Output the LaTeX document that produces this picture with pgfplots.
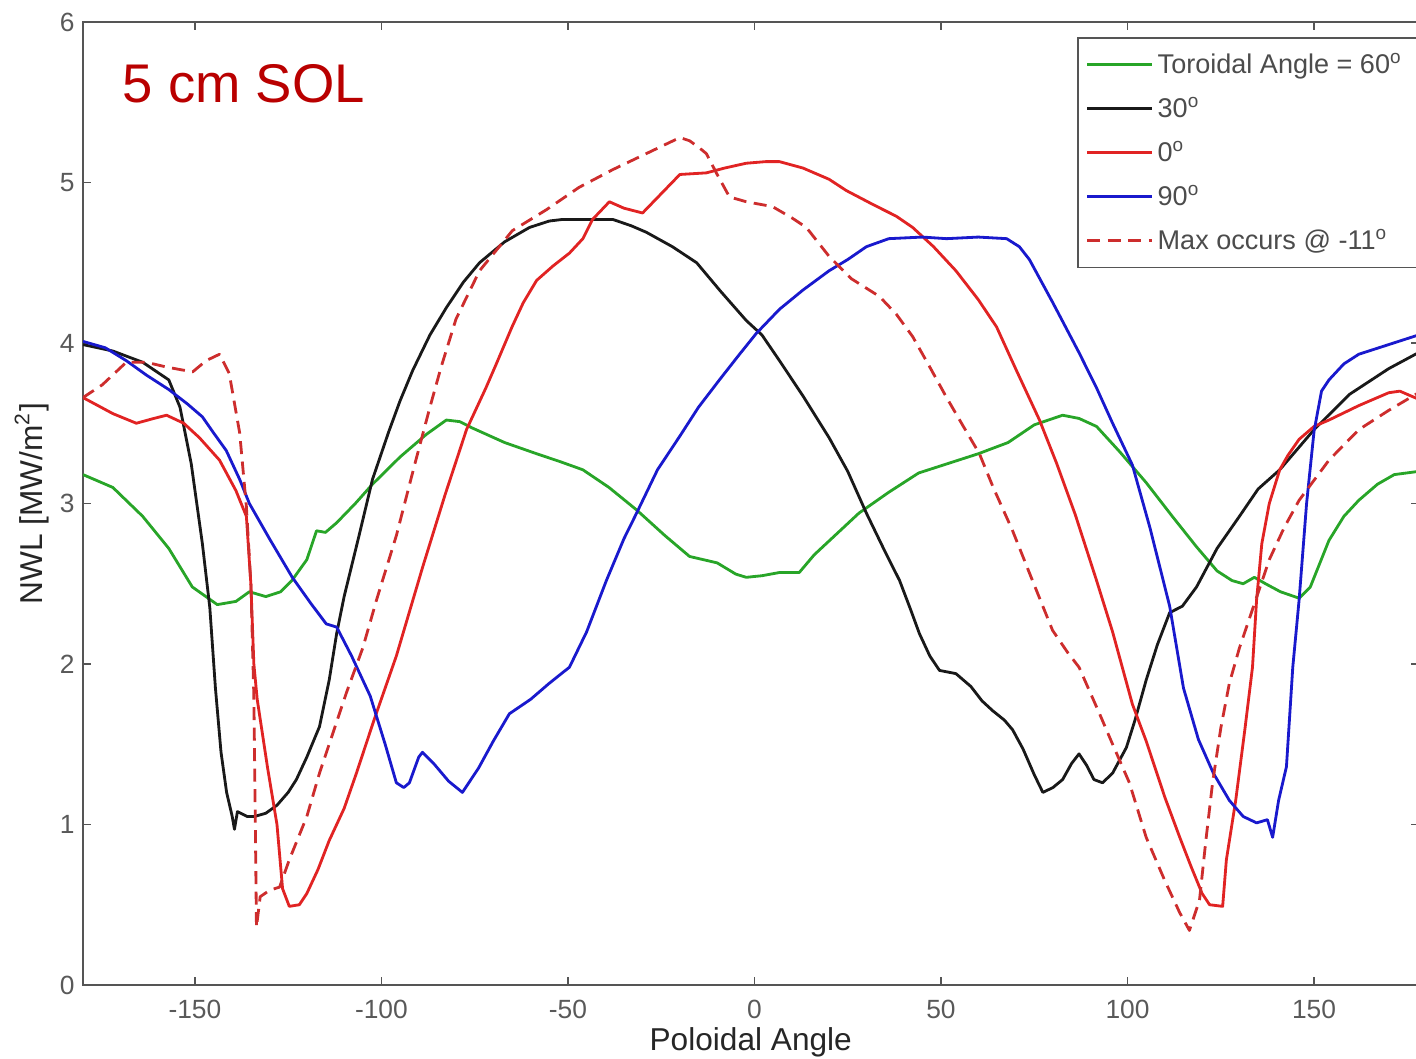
\documentclass[border=0pt]{standalone}
\usepackage{fontspec}
\setmainfont{Liberation Sans}
\usepackage{pgfplots}
\pgfplotsset{compat=1.18}
\definecolor{cgreen}{RGB}{40,165,40}
\definecolor{cblack}{RGB}{25,25,25}
\definecolor{cred}{RGB}{225,35,35}
\definecolor{cdash}{RGB}{205,45,45}
\definecolor{cblue}{RGB}{25,25,205}
\definecolor{ctitle}{RGB}{185,0,0}
\definecolor{cframe}{RGB}{85,85,85}
\begin{document}
\begin{tikzpicture}
\useasboundingbox (-8.3mm,-7.4mm) rectangle (133.3mm,98.5mm);
\begin{axis}[
  at={(0,0)}, anchor=south west,
  scale only axis, width=133.55mm, height=96.3mm,
  xmin=-180, xmax=178, ymin=0, ymax=6,
  xtick={-150,-100,-50,0,50,100,150},
  ytick={0,1,2,3,4,5,6},
  tick align=inside, major tick length=0.8mm,
  axis line style={cframe, line width=0.55pt},
  every tick/.style={cframe, line width=0.4pt},
  tick label style={font=\fontsize{7.5}{8.5}\selectfont, text=black!65},
  /pgf/number format/assume math mode=true,
  xticklabel style={yshift=-0.3mm},
  yticklabel style={xshift=0.4mm},
  xlabel={Poloidal Angle},
  ylabel={NWL [MW/m\textsuperscript{2}]},
  label style={font=\fontsize{9}{10}\selectfont, text=black!85},
  xlabel style={at={(axis description cs:0.5,-0.0592)}, anchor=center},
  ylabel style={at={(axis description cs:-0.0382,0.5)}, anchor=center},
  legend style={at={(axis description cs:0.7443,0.9844)}, anchor=north west,
    draw=cframe, line width=0.5pt, fill=white, inner sep=0.8mm,
    font=\fontsize{7.7}{8.7}\selectfont, text=black!70, row sep=0.65mm,
    nodes={inner sep=0.4mm, text height=2.4mm, text depth=0.55mm}},
  legend cell align=left,
  legend image code/.code={\draw[#1] (0mm,0mm) -- (6.5mm,0mm);},
  every axis plot/.append style={line join=round},
  clip=true,
]
% Toroidal angle 60
\addplot[cgreen, line width=0.8pt] coordinates {
(-180,3.18) (-172,3.10) (-164,2.92) (-157,2.72) (-150.7,2.48) (-144,2.37) (-139,2.39) (-135.4,2.45) (-131,2.42) (-127,2.45) (-124,2.52) (-120,2.65) (-117.4,2.83) (-115,2.82) (-112,2.88) (-107,3.0) (-102.4,3.12) (-95,3.29) (-88,3.43) (-82.6,3.52) (-79,3.51) (-75.6,3.47) (-67,3.38) (-58.4,3.31) (-52,3.26) (-46,3.21) (-39,3.10) (-31.6,2.96) (-24,2.80) (-17.4,2.67) (-10,2.63) (-5,2.56) (-2.2,2.54) (2,2.55) (6.7,2.57) (12,2.57) (16,2.68) (22,2.81) (28,2.94) (36,3.07) (44,3.19) (52,3.25) (60,3.31) (68,3.38) (75,3.49) (82.6,3.55) (87,3.53) (91.7,3.48) (98,3.32) (105,3.13) (112,2.92) (118.5,2.73) (124,2.58) (128,2.52) (131,2.50) (134,2.54) (137,2.50) (141,2.45) (146,2.41) (149,2.48) (154,2.77) (158,2.92) (162,3.02) (167,3.12) (171.5,3.18) (178,3.20)
};
\addlegendentry{\makebox[25.5mm][l]{Toroidal Angle = 60\textsuperscript{o}}}
% 30
\addplot[cblack, line width=0.8pt] coordinates {
(-180,3.99) (-172,3.95) (-164,3.88) (-157,3.77) (-154,3.60) (-151,3.25) (-148,2.75) (-146,2.35) (-144.5,1.85) (-143,1.45) (-141.5,1.2) (-140,1.05) (-139.4,0.97) (-138.6,1.08) (-136,1.05) (-134,1.05) (-131,1.07) (-128,1.12) (-125,1.2) (-122.8,1.28) (-120,1.42) (-116.6,1.61) (-114,1.9) (-112,2.19) (-110,2.42) (-106,2.8) (-102.4,3.15) (-98,3.45) (-95,3.64) (-91.6,3.83) (-87,4.05) (-82.6,4.22) (-78,4.38) (-73.7,4.50) (-67,4.63) (-60.3,4.72) (-55,4.76) (-51.4,4.77) (-45,4.77) (-38,4.77) (-33,4.73) (-29,4.69) (-22,4.60) (-15.5,4.50) (-9,4.32) (-2.2,4.14) (2,4.05) (6.7,3.89) (13,3.67) (20,3.41) (25,3.20) (30,2.94) (35,2.70) (38.9,2.52) (42,2.33) (44.2,2.19) (47,2.05) (49.6,1.96) (54,1.94) (58,1.86) (61,1.77) (63.8,1.71) (67,1.65) (69.2,1.59) (72,1.47) (75,1.31) (77.3,1.20) (80,1.23) (82.6,1.28) (85,1.38) (87,1.44) (89,1.37) (91,1.28) (93.3,1.26) (96,1.32) (99.7,1.48) (102,1.65) (105,1.90) (108,2.12) (111.3,2.32) (114.7,2.36) (118.5,2.48) (124,2.72) (130,2.92) (135,3.09) (140.8,3.21) (150,3.46) (159.5,3.68) (170,3.84) (178,3.94)
};
\addlegendentry{30\textsuperscript{o}}
% 0
\addplot[cred, line width=0.8pt] coordinates {
(-180,3.66) (-172,3.56) (-165.7,3.50) (-161,3.53) (-157.6,3.55) (-153,3.50) (-148.8,3.41) (-143.4,3.27) (-139,3.08) (-136.2,2.92) (-135,2.5) (-134.2,2.0) (-133.3,1.78) (-130.5,1.35) (-128,1.0) (-126.5,0.6) (-124.7,0.49) (-122,0.50) (-120,0.57) (-117,0.72) (-114,0.90) (-110,1.1) (-106.7,1.32) (-102,1.65) (-96,2.05) (-89,2.60) (-83,3.05) (-77.2,3.46) (-72,3.72) (-69.2,3.87) (-65,4.1) (-62,4.25) (-58.4,4.39) (-54,4.48) (-49.6,4.56) (-46,4.65) (-43.4,4.77) (-38.9,4.88) (-35,4.84) (-30,4.81) (-25,4.93) (-20,5.05) (-12.9,5.06) (-8,5.09) (-2.2,5.12) (3,5.13) (6.7,5.13) (13,5.09) (20,5.02) (24.6,4.95) (32,4.86) (38,4.79) (42.4,4.72) (48,4.60) (54,4.45) (60,4.27) (64.9,4.10) (70,3.84) (76.4,3.52) (81,3.25) (86,2.93) (91.7,2.52) (96,2.2) (101.3,1.75) (105,1.52) (110,1.17) (114,0.92) (117,0.74) (120,0.57) (122,0.50) (125.5,0.49) (126.5,0.78) (129,1.15) (131.5,1.6) (133.5,1.98) (134.6,2.40) (136,2.75) (138,3.0) (140.8,3.21) (143,3.3) (146,3.40) (150,3.48) (154,3.52) (162,3.61) (170,3.69) (173,3.70) (178,3.65)
};
\addlegendentry{0\textsuperscript{o}}
% 90
\addplot[cblue, line width=0.8pt] coordinates {
(-180,4.01) (-174,3.97) (-168.4,3.89) (-163,3.80) (-157,3.71) (-152,3.62) (-148,3.54) (-145,3.44) (-141.6,3.33) (-138,3.15) (-135.4,3.00) (-130,2.78) (-123.9,2.54) (-119,2.38) (-114.8,2.25) (-112,2.23) (-108,2.05) (-103,1.80) (-99,1.5) (-96,1.26) (-94,1.23) (-92.5,1.26) (-90,1.42) (-89,1.45) (-86,1.38) (-82,1.27) (-78.3,1.20) (-74,1.35) (-70,1.52) (-65.7,1.69) (-60,1.78) (-55,1.88) (-49.6,1.98) (-45,2.2) (-39.7,2.52) (-35,2.78) (-31.6,2.94) (-26,3.21) (-20,3.42) (-15,3.6) (-9.4,3.77) (-4,3.93) (0.5,4.06) (6.7,4.21) (13,4.33) (20,4.45) (25,4.52) (30,4.60) (36,4.65) (45,4.66) (51.5,4.65) (60,4.66) (67.6,4.65) (71,4.6) (73.7,4.52) (80,4.25) (87,3.94) (91.7,3.72) (96,3.50) (101.3,3.24) (106,2.85) (111.3,2.36) (115,1.85) (119,1.53) (123,1.32) (127.3,1.15) (131,1.05) (134.6,1.01) (137.5,1.03) (138.9,0.92) (140.5,1.15) (142.6,1.36) (144.3,1.98) (146,2.40) (148,3.0) (150,3.45) (152,3.7) (154,3.77) (158,3.87) (162,3.93) (170,3.99) (178,4.05)
};
\addlegendentry{90\textsuperscript{o}}
% max at -11
\addplot[cdash, line width=0.8pt, dash pattern=on 1.3mm off 0.75mm] coordinates {
(-180,3.66) (-174.8,3.74) (-168.4,3.88) (-163,3.88) (-157.6,3.85) (-150.6,3.82) (-147,3.89) (-143.4,3.93) (-140.8,3.81) (-138,3.44) (-136.2,2.98) (-135,2.5) (-134.2,1.8) (-133.8,1.0) (-133.5,0.36) (-132.5,0.55) (-130,0.59) (-127.3,0.61) (-124.7,0.78) (-120,1.05) (-116.6,1.32) (-113,1.57) (-109.4,1.82) (-105,2.1) (-101.3,2.40) (-96,2.8) (-91,3.25) (-87,3.6) (-84,3.85) (-80,4.15) (-73.7,4.45) (-64.9,4.70) (-55.8,4.83) (-47,4.97) (-38,5.08) (-29,5.18) (-20,5.28) (-17.4,5.26) (-15,5.22) (-12.9,5.18) (-10,5.05) (-6.7,4.91) (-2.2,4.88) (4.8,4.85) (10,4.78) (13.9,4.72) (20,4.54) (26,4.40) (33.5,4.29) (38,4.18) (42.4,4.04) (47,3.85) (51.5,3.66) (56,3.48) (60.3,3.31) (64,3.10) (69.2,2.83) (74,2.55) (79.9,2.21) (84,2.07) (87,1.98) (92.5,1.69) (96,1.50) (100.5,1.26) (105,0.92) (110,0.65) (114,0.45) (116.6,0.34) (119.3,0.53) (121,0.9) (122.8,1.26) (125,1.6) (127.3,1.88) (130,2.1) (133.5,2.34) (138,2.65) (142,2.85) (146,3.02) (154,3.27) (162,3.46) (170,3.58) (178,3.69)
};
\addlegendentry{Max occurs @ -11\textsuperscript{o}}
\node[anchor=base west, text=ctitle, font=\fontsize{15.5}{17}\selectfont, inner sep=0pt]
  at (axis description cs:0.0292,0.9169) {5 cm SOL};
\end{axis}
\end{tikzpicture}
\end{document}
